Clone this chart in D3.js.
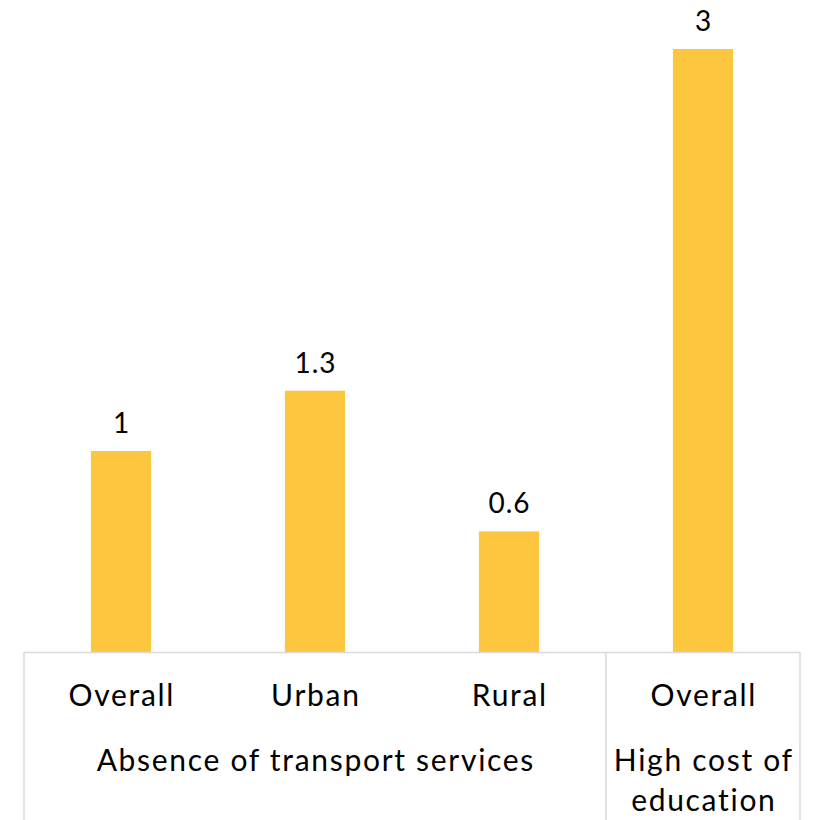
<!DOCTYPE html>
<html><head><meta charset="utf-8">
<script src="https://cdn.jsdelivr.net/npm/d3@7"></script>
<style>body{margin:0;background:#fff}svg{display:block}</style>
</head><body>
<script>
const categories = ["Overall", "Urban", "Rural", "Overall"];
const groups = [["Absence of transport services"], ["High cost of", "education"]];
const groupSizes = [3, 1];
const values = [1, 1.3, 0.6, 3];
const valueLabels = ["1", "1.3", "0.6", "3"];

const W = 820, H = 820;
const svg = d3.select("body").append("svg").attr("width", W).attr("height", H);
const font = "Lato, 'Open Sans', sans-serif";
const x = d3.scaleBand().domain(d3.range(categories.length)).range([24, 800]).paddingInner(0.69).paddingOuter(0.345);
const y = d3.scaleLinear().domain([0, 3]).range([652, 49]);

svg.selectAll("rect.bar").data(values).join("rect").attr("class", "bar")
  .attr("x", (d, i) => x(i)).attr("width", x.bandwidth())
  .attr("y", d => y(d)).attr("height", d => y(0) - y(d)).attr("fill", "#FCC73F");

svg.selectAll("text.val").data(values).join("text").attr("class", "val")
  .attr("x", (d, i) => x(i) + x.bandwidth() / 2 + 0.5).attr("y", d => y(d) - 18)
  .attr("text-anchor", "middle").attr("font-family", font).attr("font-size", 28)
  .attr("letter-spacing", 1).attr("fill", "#000")
  .text((d, i) => valueLabels[i]);

const lineColor = "#d9d9d9";
svg.append("line").attr("x1", 24).attr("x2", 800).attr("y1", y(0) + 0.5).attr("y2", y(0) + 0.5)
  .attr("stroke", lineColor).attr("stroke-width", 1.5);
const step = x.step();
let start = 0;
const bounds = [0];
groupSizes.forEach(s => { start += s; bounds.push(start); });
bounds.forEach(b => {
  const xx = 24 + b * step;
  svg.append("line").attr("x1", xx).attr("x2", xx).attr("y1", y(0)).attr("y2", H)
    .attr("stroke", lineColor).attr("stroke-width", 1.5);
});

const ls = 1.7;
svg.selectAll("text.cat").data(categories).join("text").attr("class", "cat")
  .attr("x", (d, i) => x(i) + x.bandwidth() / 2 + ls / 2).attr("y", 706)
  .attr("text-anchor", "middle").attr("font-family", font).attr("font-size", 30)
  .attr("letter-spacing", ls).attr("fill", "#000")
  .text(d => d);

groups.forEach((g, gi) => {
  const cx = 24 + (bounds[gi] + bounds[gi + 1]) / 2 * step;
  g.forEach((line, li) => {
    svg.append("text").attr("x", cx + ls / 2).attr("y", 771 + li * 40)
      .attr("text-anchor", "middle").attr("font-family", font).attr("font-size", 30)
      .attr("letter-spacing", ls).attr("fill", "#000")
      .text(line);
  });
});
</script>
</body></html>
